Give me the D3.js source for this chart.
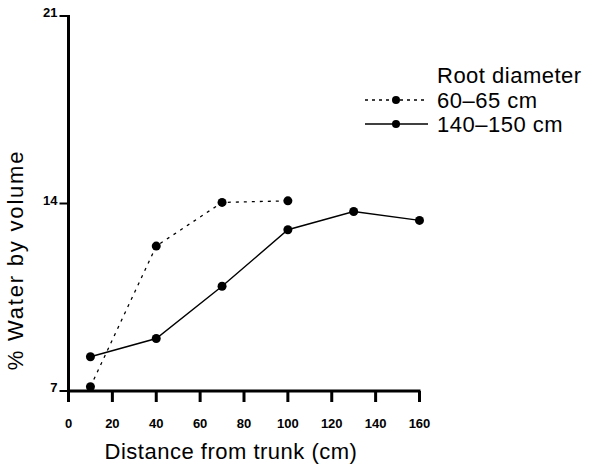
<!DOCTYPE html>
<html>
<head>
  <script src="https://d3js.org/d3.v7.min.js"></script>
  <style>
    body { margin: 0; background: #fff; }
    svg { font-family: "Liberation Sans", Arial, Helvetica, sans-serif; }
    .tick-label { font-size: 13px; font-weight: bold; }
    .title { font-size: 22px; letter-spacing: 0.5px; }
  </style>
</head>
<body>
  <script>
    // distance from trunk (cm)
    var distSmall = [10, 40, 70, 100];
    var distLarge = [10, 40, 70, 100, 130, 160];
    // % water by volume
    var waterSmall = [7.16, 12.41, 14.04, 14.1];   // 60–65 cm
    var waterLarge = [8.28, 8.96, 10.91, 13.02, 13.7, 13.37]; // 140–150 cm

    var xTicks = [0, 20, 40, 60, 80, 100, 120, 140, 160];
    var yTicks = [7, 14, 21];
    var seriesNames = ["60–65 cm", "140–150 cm"];

    var svg = d3.select("body")
      .append("svg")
      .attr("width", 589)
      .attr("height", 465);

    var x = d3.scaleLinear().domain([0, 160]).range([68.5, 419.5]);
    var y = d3.scaleLinear().domain([7, 21]).range([391, 16]);

    // y axis
    svg.append("line")
      .attr("x1", x(0)).attr("x2", x(0))
      .attr("y1", y(21) - 1).attr("y2", y(7) + 1)
      .attr("stroke", "#000").attr("stroke-width", 3);
    yTicks.forEach(function(t) {
      svg.append("line")
        .attr("x1", x(0) - 9).attr("x2", x(0))
        .attr("y1", y(t)).attr("y2", y(t))
        .attr("stroke", "#000").attr("stroke-width", 2);
      svg.append("text")
        .attr("class", "tick-label")
        .attr("x", x(0) - 11)
        .attr("y", y(t) + 1)
        .attr("text-anchor", "end")
        .text(t);
    });

    // x axis
    svg.append("line")
      .attr("x1", x(0) - 1).attr("x2", x(160) + 1)
      .attr("y1", y(7)).attr("y2", y(7))
      .attr("stroke", "#000").attr("stroke-width", 3);
    xTicks.forEach(function(t) {
      svg.append("line")
        .attr("x1", x(t)).attr("x2", x(t))
        .attr("y1", y(7)).attr("y2", y(7) + 11)
        .attr("stroke", "#000").attr("stroke-width", 3);
      svg.append("text")
        .attr("class", "tick-label")
        .attr("x", x(t))
        .attr("y", 428)
        .attr("text-anchor", "middle")
        .text(t);
    });

    // axis titles
    svg.append("text")
      .attr("class", "title")
      .attr("x", 231).attr("y", 459)
      .attr("text-anchor", "middle")
      .text("Distance from trunk (cm)");
    svg.append("text")
      .attr("class", "title")
      .attr("transform", "translate(23,260) rotate(-90)")
      .attr("text-anchor", "middle")
      .style("letter-spacing", "1.8px")
      .text("% Water by volume");

    var line = d3.line()
      .x(function(d) { return x(d[0]); })
      .y(function(d) { return y(d[1]); });

    var small = d3.zip(distSmall, waterSmall);
    var large = d3.zip(distLarge, waterLarge);

    svg.append("path")
      .datum(small)
      .attr("d", line)
      .attr("fill", "none")
      .attr("stroke", "#000")
      .attr("stroke-width", 1.3)
      .attr("stroke-dasharray", "3,5");
    svg.append("path")
      .datum(large)
      .attr("d", line)
      .attr("fill", "none")
      .attr("stroke", "#000")
      .attr("stroke-width", 1.4);

    svg.selectAll(".pt")
      .data(small.concat(large))
      .enter().append("circle")
      .attr("cx", function(d) { return x(d[0]); })
      .attr("cy", function(d) { return y(d[1]); })
      .attr("r", 4.5)
      .attr("fill", "#000");

    // legend
    svg.append("text")
      .attr("class", "title")
      .attr("x", 437).attr("y", 83)
      .text("Root diameter");
    var legY = [100, 124];
    seriesNames.forEach(function(name, i) {
      svg.append("line")
        .attr("x1", 365).attr("x2", 428)
        .attr("y1", legY[i]).attr("y2", legY[i])
        .attr("stroke", "#000")
        .attr("stroke-width", 1.3)
        .attr("stroke-dasharray", i === 0 ? "3,4" : null);
      svg.append("circle")
        .attr("cx", 396).attr("cy", legY[i])
        .attr("r", 4)
        .attr("fill", "#000");
      svg.append("text")
        .attr("class", "title")
        .attr("x", 437).attr("y", legY[i] + 8)
        .text(name);
    });
  </script>
</body>
</html>
